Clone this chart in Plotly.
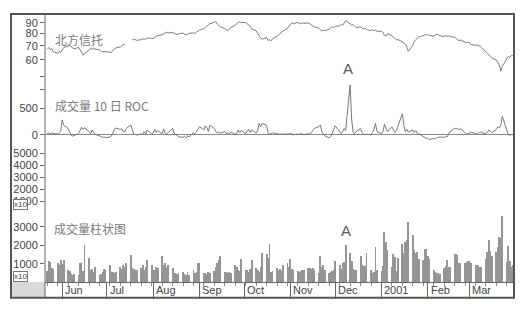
import plotly.graph_objects as go
import pandas as pd

# ---------------- data ----------------
# daily closes, business days from 2000-05-22 (None = no trading)
price = [
    # May 22-31
    67.2, 68.6, 66.9, 68.0, 65.4, 64.6, 65.8, 64.9,
    # Jun
    66.8, 68.5, 69.6, 70.1, 69.2, 68.3, 67.5, 68.7, 67.2, 65.1, 63.0, 64.2,
    66.5, 67.8, 67.2, 68.1, 67.4, 66.9, 65.8, 65.2, 65.6, 65.5,
    # Jul
    65.5, 65.0, 66.4, 67.5, 68.3, 69.0, 70.2, 70.8, 71.0, None, None, 75.3,
    74.6, 75.0, 74.2, 74.8, 75.5, 74.9, 75.6, 76.2, 75.8,
    # Aug
    75.8, 76.5, 77.4, 78.2, 78.9, 79.5, 80.8, 81.2, 80.5, 81.0, 80.2, 79.6,
    79.1, 79.8, 80.4, 79.3, 78.8, 79.5, 80.1, 80.6, 80.0, 81.2, 82.0,
    # Sep
    83.1, 84.5, 85.2, 86.8, 88.0, 89.2, 90.5, 91.3, 89.0, 87.2, 86.0, 84.5,
    83.0, 82.4, 84.0, 85.6, 87.5, 89.6, 90.8, 91.0, 90.4,
    # Oct
    90.2, 89.0, 87.5, 86.8, 84.2, 82.6, 80.1, 78.0, 76.3, 75.2, 76.4, 74.1,
    75.0, 73.8, 75.5, 77.6, 78.4, 80.2, 81.5, 82.3, 84.6, 87.0,
    # Nov
    88.8, 89.9, 89.2, 90.4, 89.6, 88.9, 90.1, 89.4, 90.0, 89.1, 88.2, 87.5,
    86.0, 84.8, 83.5, 82.3, 83.0, 82.6, 83.8, 85.1, 86.2, 85.6,
    # Dec
    86.5, 87.2, 88.4, 87.6, 90.6, 92.3, 89.0, 87.8, 88.3, 86.5, 85.4, 86.2,
    84.8, 84.0, 84.9, 83.5, 82.6, 83.8, 82.4, 83.1, 82.0,
    # Jan 2001
    82.0, 81.2, 78.5, 77.6, 79.8, 78.2, 76.5, 75.8, 74.6, 74.9, 73.0, 72.4,
    71.2, 69.0, 65.8, 70.2, 73.5, 74.8, 76.4, 77.0, 78.2, 79.0, 78.5,
    # Feb
    79.2, 78.4, 77.8, 78.6, 79.4, 78.9, 78.1, 77.5, 78.2, 77.6, 78.0, 77.2,
    76.8, 75.9, 74.5, 73.8, 74.6, 73.0, 72.2, 72.8,
    # Mar
    71.6, 71.0, 70.2, 70.8, 69.5, 70.0, 68.6, 66.0, 64.5, 63.2, 62.0, 61.0,
    59.8, 58.2, 56.5, 52.8, 55.8, 60.5, 62.2, 61.5, 63.0, 62.6,
]

# volume 10-day ROC (%)
roc = [
    # May
    20, 35, 10, 40, 25, 15, 30, 60,
    # Jun
    280, 180, 120, 60, -10, -25, -15, 20, 80, 140, 100, 130,
    60, 20, 90, 40, 10, -20, -35, -50, -40, -55,
    # Jul
    -45, -20, 30, 110, 125, 100, 115, 60, 60, 120, 185, 70,
    10, 5, -5, 15, 0, 60, 10, 90, 20,
    # Aug
    30, 100, 40, 80, 20, 110, 30, 15, 40, 120, 30, 10,
    -20, -35, -50, -30, -60, -20, -40, 40, 20, 60, 110,
    # Sep
    150, 90, 170, 130, 60, 180, 120, 60, 40, 50, 30, 60,
    20, 40, 15, 50, 10, 30, 90, 40, 80,
    # Oct
    20, 60, 100, 40, 90, 30, 70, 215, 150, 215, 180, 40,
    10, 20, 40, 10, 30, 0, 20, 10, 15, 5,
    # Nov
    10, 20, 0, 15, 5, 25, 10, 0, 20, 10, 40, 90,
    120, 150, 185, 60, 10, -20, -60, -30, 30, 110,
    # Dec
    170, 60, 20, 60, 120, 80, 940, 300, 50, 20, 60, 120,
    40, 10, 0, 10, 0, 40, 100, 215, 60,
    # Jan
    20, 60, 195, 120, 60, 150, 100, 40, 80, 150, 395, 180,
    60, 100, 50, 90, 40, 80, 30, 20, -30, -50, -70,
    # Feb
    -60, -90, -70, -80, -60, -50, -40, -50, -30, -40, 10, 60,
    120, 110, 125, 90, 120, 40, 10, 20,
    # Mar
    40, 50, 20, 10, 30, 60, 40, 20, 50, 90, 70, 40,
    100, 150, 130, 180, 350, 60, 0, -10, 5, 0,
]

# daily volume (x10 shares)
volume = [
    # May
    600, 1100, 1050, 750, 700, 1000, 900, 1200,
    # Jun
    950, 1200, 650, 600, 420, 380, 400, 350, 1000, 1050, 600, 2000,
    1270, 640, 700, 500, 800, 375, 400, 500, 700, 650,
    # Jul
    900, 550, 500, 450, 550, 820, 700, 900, 800, 1000, 1450, 740,
    700, 650, 640, 720, 900, 650, 800, 1200, 880,
    # Aug
    650, 640, 800, 720, 1400, 900, 1000, 820, 900, 740, 450, 460,
    400, 450, 550, 420, 370, 500, 380, 640, 450, 550, 1000,
    # Sep
    1000, 450, 460, 400, 500, 460, 600, 800, 1000, 1180, 1390, 550,
    500, 460, 500, 450, 900, 820, 640, 600, 1230,
    # Oct
    640, 650, 550, 700, 1180, 720, 640, 500, 800, 1570, 1480, 1300,
    2070, 550, 560, 720, 640, 700, 560, 900, 1000, 820,
    # Nov
    1230, 700, 640, 560, 500, 560, 650, 640, 720, 730, 700, 720,
    650, 460, 1390, 820, 900, 640, 460, 500, 560, 650,
    # Dec
    1100, 900, 700, 1000, 1050, 1980, 1540, 1100, 700, 650, 640, 1410,
    900, 870, 870, 1540, 640, 460, 500, 1890, 650,
    # Jan
    600, 850, 2730, 2160, 1710, 820, 1480, 1360, 590, 1270, 2070, 1540,
    2160, 2250, 3230, 2520, 1710, 1540, 1620, 1250, 1160, 1800, 1800,
    # Feb
    1400, 1250, 640, 550, 460, 450, 400, 730, 850, 1180, 820, 820,
    1480, 1480, 1450, 1000, 1000, 1000, 1070, 1100,
    # Mar
    1100, 1000, 900, 900, 900, 800, 820, 1250, 1600, 2250, 1650, 1380,
    1620, 1900, 2430, 2350, 3590, 1070, 1950, 1150, 800, 900,
]

month_starts = ['2000-06-01', '2000-07-01', '2000-08-01', '2000-09-01', '2000-10-01',
                '2000-11-01', '2000-12-01', '2001-01-01', '2001-02-01', '2001-03-01']
month_labels = ['Jun', 'Jul', 'Aug', 'Sep', 'Oct', 'Nov', 'Dec', '2001', 'Feb', 'Mar']

price_ticks = [43, 50, 60, 70, 80, 90]
price_ticktext = ['', '', '60', '70', '80', '90']
roc_ticks = [0, 500]
vol_top_ticks = [1000, 2000, 3000, 4000, 5000]
vol_ticks = [1000, 2000, 3000]

title_price = '北方信托'
title_roc = '成交量 10 日 ROC'
title_vol = '成交量柱状图'

# ---------------- figure ----------------
START = '2000-05-22'
dates_p = pd.bdate_range(START, periods=len(price))
dates_r = pd.bdate_range(START, periods=len(roc))
dates_v = pd.bdate_range(START, periods=len(volume))

DAY_MS = 86400000
AX = '#666666'
TXT = '#444444'
NUMFONT = dict(family='Liberation Sans, Arial, sans-serif', size=11, color=TXT)
CJK = dict(family='Noto Sans CJK SC, sans-serif', size=12, color='#7a7a7a')

fig = go.Figure()
fig.add_trace(go.Scatter(x=dates_p, y=price, mode='lines', yaxis='y',
                         line=dict(color='#7c7c7c', width=1), connectgaps=False,
                         showlegend=False, hoverinfo='skip'))
fig.add_trace(go.Scatter(x=dates_r, y=roc, mode='lines', yaxis='y2',
                         line=dict(color='#777777', width=1),
                         showlegend=False, hoverinfo='skip'))
fig.add_trace(go.Scatter(x=[dates_v[0]], y=[None], yaxis='y3', mode='lines',
                         showlegend=False, hoverinfo='skip'))
fig.add_trace(go.Bar(x=dates_v, y=volume, yaxis='y4', width=0.6 * DAY_MS,
                     marker=dict(color='#959595', line=dict(width=0)),
                     showlegend=False, hoverinfo='skip'))

yax_common = dict(anchor='x', showgrid=False, zeroline=False, showline=False,
                  ticks='outside', ticklen=4, tickcolor=AX, tickwidth=1,
                  tickfont=NUMFONT, tickmode='array', fixedrange=True)

fig.update_layout(
    width=528, height=310,
    margin=dict(l=45, r=14, t=14, b=23),
    paper_bgcolor='white', plot_bgcolor='white',
    showlegend=False, bargap=0,
    xaxis=dict(type='date', range=['2000-05-20 12:00', '2001-03-30 20:00'],
               anchor='y4', showline=True, linecolor=AX, linewidth=1,
               ticks='outside', ticklen=16, tickcolor=AX, tickwidth=1,
               tickmode='array', tickvals=month_starts, showticklabels=False,
               showgrid=False, zeroline=False,
               minor=dict(ticks='outside', ticklen=3, tickcolor='#888888',
                          dtick=7 * DAY_MS, tick0=START, showgrid=False)),
    yaxis=dict(type='log', domain=[0.68498, 1.0], range=[1.59274, 1.99649],
               tickvals=price_ticks, ticktext=price_ticktext, **yax_common),
    yaxis2=dict(domain=[0.5018, 0.7656], range=[-240.7, 1092.6],
                tickvals=roc_ticks, ticktext=[str(v) for v in roc_ticks],
                **{**yax_common, 'zeroline': True},
                zerolinecolor='#888888', zerolinewidth=1),
    yaxis3=dict(domain=[0.2747, 0.4945], range=[428.6, 5326.5],
                tickvals=vol_top_ticks, ticktext=[str(v) for v in vol_top_ticks],
                **yax_common),
    yaxis4=dict(domain=[0.0, 0.2747], range=[0, 4011],
                tickvals=vol_ticks, ticktext=[str(v) for v in vol_ticks],
                **yax_common),
)

L = (11 - 45) / 469.0
B = (287 - 303) / 273.0
fig.add_shape(type='rect', xref='paper', yref='paper', x0=L, x1=0, y0=B, y1=0,
              fillcolor='#d9d9d9', line=dict(width=0), layer='below')
fig.add_shape(type='line', xref='paper', yref='paper', x0=0, x1=0, y0=B, y1=1,
              line=dict(color=AX, width=1))
fig.add_shape(type='rect', xref='paper', yref='paper', x0=L, x1=1, y0=B, y1=1,
              line=dict(color='#555555', width=2))

# panel titles
fig.add_annotation(text=title_price, xref='paper', yref='paper', x=0.017, y=0.905,
                   xanchor='left', yanchor='middle', showarrow=False, font=CJK)
fig.add_annotation(text=title_roc, xref='paper', yref='paper', x=0.017, y=0.6575,
                   xanchor='left', yanchor='middle', showarrow=False, font=CJK)
fig.add_annotation(text=title_vol, xref='paper', yref='paper', x=0.015, y=0.1996,
                   xanchor='left', yanchor='middle', showarrow=False, font=CJK)

# x10 multiplier boxes
for yy in (0.2875, 0.020):
    fig.add_annotation(text='x10', xref='paper', yref='paper', x=-0.0512, y=yy,
                       xanchor='center', yanchor='middle', showarrow=False,
                       font=dict(family='Liberation Sans, Arial', size=8, color=TXT),
                       bgcolor='white', bordercolor='#777777', borderwidth=1, borderpad=0)

# "A" marks on the ROC spike and the matching volume bar
i_roc = max(range(len(roc)), key=lambda i: roc[i])
fig.add_annotation(text='A', x=dates_r[i_roc], y=roc[i_roc], xref='x', yref='y2',
                   yanchor='bottom', yshift=6, xshift=-2, showarrow=False,
                   font=dict(family='Liberation Sans, Arial', size=15, color='#555555'))
i_vol = i_roc - 1
fig.add_annotation(text='A', x=dates_v[i_vol], y=volume[i_vol], xref='x', yref='y4',
                   yanchor='bottom', yshift=5, showarrow=False,
                   font=dict(family='Liberation Sans, Arial', size=15, color='#555555'))

# month labels, left-aligned right after each month tick
for d, lab in zip(month_starts, month_labels):
    fig.add_annotation(text=lab, x=d, xref='x', yref='paper', y=-0.0293,
                       xanchor='left', yanchor='middle', xshift=1, showarrow=False,
                       font=NUMFONT)

fig.write_html('out.html')
